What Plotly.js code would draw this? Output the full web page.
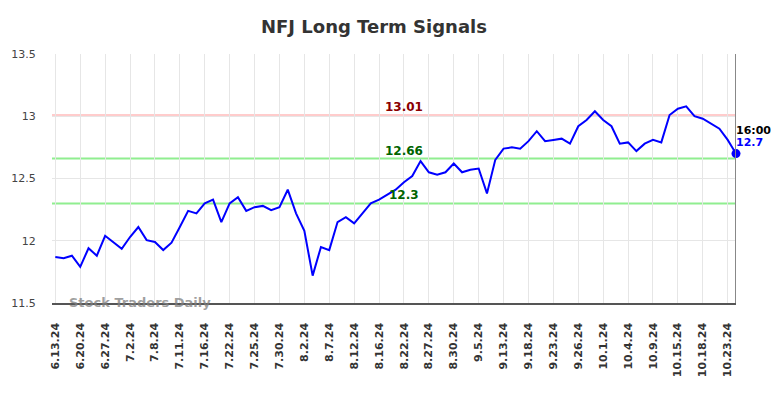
<!DOCTYPE html>
<html>
<head>
<meta charset="utf-8">
<script src="https://cdn.plot.ly/plotly-3.0.1.min.js"></script>
<style>html,body{margin:0;padding:0;background:#fff;}#chart{width:784px;height:398px;}</style>
</head>
<body>
<div id="chart"></div>
<script>
const dates = [
  "6.13.24","6.14.24","6.17.24","6.20.24","6.21.24","6.24.24","6.27.24","6.28.24","7.1.24",
  "7.2.24","7.3.24","7.5.24","7.8.24","7.9.24","7.10.24","7.11.24","7.12.24","7.15.24",
  "7.16.24","7.17.24","7.18.24","7.22.24","7.23.24","7.24.24","7.25.24","7.26.24","7.29.24",
  "7.30.24","7.31.24","8.1.24","8.2.24","8.5.24","8.6.24","8.7.24","8.8.24","8.9.24",
  "8.12.24","8.13.24","8.14.24","8.16.24","8.19.24","8.20.24","8.22.24","8.23.24","8.26.24",
  "8.27.24","8.28.24","8.29.24","8.30.24","9.3.24","9.4.24","9.5.24","9.9.24","9.11.24",
  "9.13.24","9.16.24","9.17.24","9.18.24","9.19.24","9.20.24","9.23.24","9.24.24","9.25.24",
  "9.26.24","9.27.24","9.30.24","10.1.24","10.2.24","10.3.24","10.4.24","10.7.24","10.8.24",
  "10.9.24","10.10.24","10.14.24","10.15.24","10.16.24","10.17.24","10.18.24","10.21.24","10.22.24",
  "10.23.24","10.24.24"
];
const prices = [
  11.87,11.86,11.88,11.79,11.94,11.88,12.04,11.99,11.935,
  12.03,12.11,12.005,11.99,11.925,11.985,12.11,12.24,12.22,
  12.30,12.33,12.15,12.30,12.35,12.24,12.27,12.28,12.245,
  12.27,12.41,12.22,12.08,11.72,11.95,11.925,12.15,12.19,
  12.14,12.22,12.30,12.33,12.37,12.41,12.47,12.52,12.64,
  12.55,12.53,12.55,12.62,12.55,12.57,12.58,12.38,12.65,
  12.74,12.75,12.74,12.80,12.88,12.80,12.81,12.82,12.78,
  12.92,12.97,13.04,12.97,12.92,12.78,12.79,12.72,12.78,
  12.81,12.79,13.01,13.06,13.08,13.00,12.98,12.94,12.90,
  12.81,12.70
];
const tickLabels = ["6.13.24","6.20.24","6.27.24","7.2.24","7.8.24","7.11.24","7.16.24","7.22.24",
  "7.25.24","7.30.24","8.2.24","8.7.24","8.12.24","8.16.24","8.22.24","8.27.24","8.30.24","9.5.24",
  "9.13.24","9.18.24","9.23.24","9.26.24","10.1.24","10.4.24","10.9.24","10.15.24","10.18.24","10.23.24"];
const resistance = 13.01;
const supportHigh = 12.66;
const supportLow = 12.3;
const lastTime = "16:00";

const idx = dates.map((d, i) => i);
const tickVals = tickLabels.map(l => dates.indexOf(l));
const lastI = idx.length - 1;
const lastP = prices[lastI];
const labelI = dates.indexOf("8.22.24");

const traces = [
  {x: idx, y: prices, type: 'scatter', mode: 'lines', line: {color: '#0000ff', width: 2}, hoverinfo: 'skip'},
  {x: [lastI], y: [lastP], type: 'scatter', mode: 'markers', marker: {color: '#0000ff', size: 9}, cliponaxis: false, hoverinfo: 'skip'}
];

function hline(y, color) {
  return {type: 'line', xref: 'paper', x0: 0, x1: 1, yref: 'y', y0: y, y1: y, line: {color: color, width: 2}, layer: 'below'};
}

const layout = {
  width: 784, height: 398,
  margin: {l: 52, r: 48, t: 54, b: 95},
  paper_bgcolor: '#fff', plot_bgcolor: '#fff',
  showlegend: false,
  title: {text: 'NFJ Long Term Signals', x: 0.477, xanchor: 'center', xref: 'container', y: 0.932, yanchor: 'middle', yref: 'container',
    font: {family: 'DejaVu Sans', size: 18, color: '#333', weight: 'bold'}},
  xaxis: {
    range: [-0.4, lastI], tickmode: 'array', tickvals: tickVals, ticktext: tickLabels, tickangle: -90,
    tickfont: {family: 'DejaVu Sans', size: 11, color: '#333', weight: 'bold'},
    showgrid: true, gridcolor: '#e6e6e6', gridwidth: 1,
    showline: true, linecolor: '#555', linewidth: 1.5,
    ticks: 'outside', ticklen: 14, tickcolor: 'rgba(0,0,0,0)', zeroline: false, fixedrange: true
  },
  yaxis: {
    range: [11.5, 13.5], tickvals: [11.5, 12, 12.5, 13, 13.5], ticktext: ['11.5','12','12.5','13','13.5'],
    tickfont: {family: 'DejaVu Sans', size: 11, color: '#444'},
    showgrid: true, gridcolor: '#e6e6e6', gridwidth: 1,
    showline: false, zeroline: false,
    ticks: 'outside', ticklen: 13, tickcolor: 'rgba(0,0,0,0)', fixedrange: true
  },
  shapes: [
    hline(resistance, '#ffcccc'),
    hline(supportHigh, '#90ee90'),
    hline(supportLow, '#90ee90'),
    {type: 'line', xref: 'x', x0: lastI, x1: lastI, yref: 'paper', y0: 0, y1: 1, line: {color: '#888', width: 2}}
  ],
  annotations: [
    {x: labelI, y: resistance, xref: 'x', yref: 'y', text: String(resistance), showarrow: false, yanchor: 'bottom', yshift: -1,
      font: {family: 'DejaVu Sans', size: 12, color: '#8b0000', weight: 'bold'}},
    {x: labelI, y: supportHigh, xref: 'x', yref: 'y', text: String(supportHigh), showarrow: false, yanchor: 'bottom', yshift: -1,
      font: {family: 'DejaVu Sans', size: 12, color: '#006400', weight: 'bold'}},
    {x: labelI, y: supportLow, xref: 'x', yref: 'y', text: String(supportLow), showarrow: false, yanchor: 'bottom', yshift: -1,
      font: {family: 'DejaVu Sans', size: 12, color: '#006400', weight: 'bold'}},
    {x: lastI, y: lastP, xref: 'x', yref: 'y', text: lastTime, showarrow: false, xanchor: 'left', yanchor: 'middle', yshift: 23, xshift: -2,
      font: {family: 'DejaVu Sans', size: 11, color: '#000', weight: 'bold'}},
    {x: lastI, y: lastP, xref: 'x', yref: 'y', text: String(lastP), showarrow: false, xanchor: 'left', yanchor: 'middle', yshift: 11, xshift: -2,
      font: {family: 'DejaVu Sans', size: 11, color: '#0000ff', weight: 'bold'}},
    {x: 0.0215, y: 11.5, xref: 'paper', yref: 'y', text: 'Stock Traders Daily', showarrow: false, xanchor: 'left', yanchor: 'middle', yshift: 1,
      font: {family: 'DejaVu Sans', size: 13, color: 'rgba(128,128,128,0.75)', weight: 'bold'}}
  ]
};

Plotly.newPlot('chart', traces, layout, {displayModeBar: false, staticPlot: true});
</script>
</body>
</html>
